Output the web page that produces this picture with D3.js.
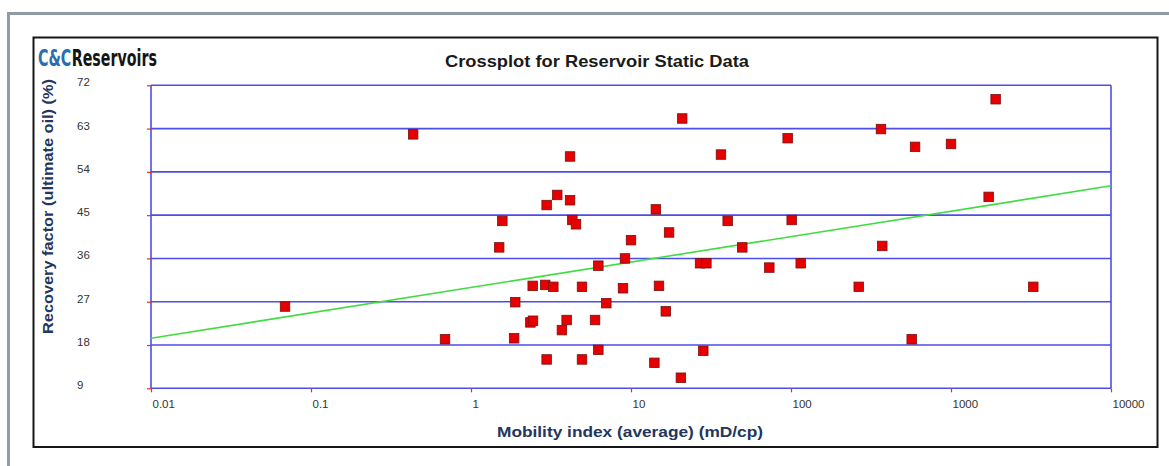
<!DOCTYPE html>
<html>
<head>
<meta charset="utf-8">
<script src="https://cdn.jsdelivr.net/npm/d3@7"></script>
<style>
  html, body { margin: 0; padding: 0; background: #ffffff; }
  svg { display: block; }
</style>
</head>
<body>
<svg id="chart" width="1169" height="466"></svg>
<script>
// ---- data ----
const mobilityIndex = [
  0.435, 0.0688, 0.688, 1.57, 1.50,
  20.9, 95.3, 4.16, 36.5, 3.46, 2.97, 4.16, 14.3, 4.30, 4.53,
  40.2, 101, 17.3, 10.0, 49.6, 6.25, 9.17, 27.0, 29.6, 73.2,
  115, 2.43, 2.91, 3.27, 4.94, 8.91, 14.96, 1.89, 7.01, 16.5,
  2.35, 2.44, 3.96, 3.70, 5.96, 1.86, 6.25, 28.3, 2.97, 4.94,
  14.0, 20.5,
  1901, 365, 596, 1000, 1719, 372, 265, 3268, 568
];
const recoveryFactor = [
  61.8, 26.0, 19.2, 43.8, 38.3,
  65.1, 61.0, 57.2, 57.6, 49.2, 47.1, 48.1, 46.2, 44.0, 43.1,
  43.8, 44.0, 41.4, 39.8, 38.3, 34.5, 36.0, 35.0, 35.0, 34.1,
  35.0, 30.3, 30.5, 30.1, 30.1, 29.8, 30.3, 26.9, 26.7, 25.0,
  22.7, 23.05, 23.2, 21.1, 23.2, 19.4, 17.0, 16.8, 15.0, 15.0,
  14.3, 11.2,
  69.1, 62.9, 59.2, 59.8, 48.8, 38.6, 30.1, 30.1, 19.2
];
const trendX = [0.01, 10000];
const trendY = [19.4, 51.1];
const xTicks = [0.01, 0.1, 1, 10, 100, 1000, 10000];
const xTickLabels = ["0.01", "0.1", "1", "10", "100", "1000", "10000"];
const yTicks = [9, 18, 27, 36, 45, 54, 63, 72];

const chartTitle = "Crossplot for Reservoir Static Data";
const xTitle = "Mobility index (average) (mD/cp)";
const yTitle = "Recovery factor (ultimate oil) (%)";
const logoParts = ["C&C", "Reservoirs"];

// ---- layout ----
const svg = d3.select("#chart");
const plot = { left: 151, right: 1111, top: 85.3, bottom: 388.3 };

const x = d3.scaleLog().domain([0.01, 10000]).range([plot.left, plot.right]);
const y = d3.scaleLinear().domain([9, 72]).range([plot.bottom, plot.top]);

// outer gray frame
svg.append("rect").attr("x", 7).attr("y", 12).attr("width", 1200).attr("height", 3).attr("fill", "#8f9ca6");
svg.append("rect").attr("x", 7).attr("y", 12).attr("width", 3).attr("height", 460).attr("fill", "#8f9ca6");

// black chart box
svg.append("rect").attr("x", 33.5).attr("y", 37.5).attr("width", 1124).attr("height", 409.5)
  .attr("fill", "#ffffff").attr("stroke", "#161616").attr("stroke-width", 2);

// horizontal gridlines
const gridColor = "#4d4de8";
svg.append("g").selectAll("line").data(yTicks).join("line")
  .attr("x1", plot.left).attr("x2", plot.right)
  .attr("y1", d => y(d)).attr("y2", d => y(d))
  .attr("stroke", gridColor).attr("stroke-width", 1.6);

// left / right borders
svg.append("g").selectAll("line").data(d3.extent(xTicks)).join("line")
  .attr("x1", d => x(d)).attr("x2", d => x(d))
  .attr("y1", plot.top).attr("y2", plot.bottom)
  .attr("stroke", gridColor).attr("stroke-width", 1.6);

// y axis ticks and labels
const yAxis = svg.append("g").attr("transform", `translate(${plot.left},0)`)
  .call(d3.axisLeft(y).tickValues(yTicks).tickSize(4).tickPadding(0).tickFormat(d3.format("d")));
yAxis.select(".domain").remove();
yAxis.selectAll(".tick line").attr("stroke", "#e03030").attr("stroke-width", 1.2);
yAxis.selectAll(".tick text")
  .attr("x", 77 - plot.left).attr("dy", "0.3em").attr("y", -3)
  .attr("text-anchor", "start")
  .attr("font-family", "Liberation Sans, Arial, sans-serif").attr("font-size", 11.5).attr("fill", "#333333");

// x axis ticks and labels
const xAxis = svg.append("g").attr("transform", `translate(0,${plot.bottom})`)
  .call(d3.axisBottom(x).tickValues(xTicks).tickSize(4).tickPadding(0)
    .tickFormat((d, i) => xTickLabels[i]));
xAxis.select(".domain").remove();
xAxis.selectAll(".tick line").attr("stroke", "#e03030").attr("stroke-width", 1.2);
xAxis.selectAll(".tick text")
  .attr("y", 20).attr("dy", 0).attr("x", 1)
  .attr("text-anchor", "start")
  .attr("font-family", "Liberation Sans, Arial, sans-serif").attr("font-size", 11.5).attr("fill", "#333333");

// trend line
const trendData = trendX.map((d, i) => [d, trendY[i]]);
svg.append("path").datum(trendData)
  .attr("d", d3.line().x(d => x(d[0])).y(d => y(d[1])))
  .attr("fill", "none").attr("stroke", "#3fdd3f").attr("stroke-width", 1.6);

// markers
const pts = mobilityIndex.map((d, i) => [d, recoveryFactor[i]]);
const ms = 9.5;
svg.append("g").selectAll("rect").data(pts).join("rect")
  .attr("x", d => x(d[0]) - ms / 2).attr("y", d => y(d[1]) - ms / 2)
  .attr("width", ms).attr("height", ms)
  .attr("fill", "#e60000").attr("stroke", "#7a1010").attr("stroke-width", 0.8);

// titles
svg.append("text").text(chartTitle)
  .attr("x", 597).attr("y", 67).attr("text-anchor", "middle")
  .attr("font-family", "Liberation Sans, Arial, sans-serif").attr("font-weight", "bold")
  .attr("font-size", 16.5).attr("fill", "#1a1a1a")
  .attr("textLength", 304).attr("lengthAdjust", "spacingAndGlyphs");

svg.append("text").text(xTitle)
  .attr("x", 630).attr("y", 437).attr("text-anchor", "middle")
  .attr("font-family", "Liberation Sans, Arial, sans-serif").attr("font-weight", "bold")
  .attr("font-size", 15.5).attr("fill", "#23365c")
  .attr("textLength", 266).attr("lengthAdjust", "spacingAndGlyphs");

svg.append("text").text(yTitle)
  .attr("transform", "translate(53,334) rotate(-90)")
  .attr("text-anchor", "start")
  .attr("font-family", "Liberation Sans, Arial, sans-serif").attr("font-weight", "bold")
  .attr("font-size", 15.5).attr("fill", "#23365c")
  .attr("textLength", 255).attr("lengthAdjust", "spacingAndGlyphs");

// logo (scaled horizontally to fit without overlapping parts)
svg.append("rect").attr("x", 36).attr("y", 44).attr("width", 124).attr("height", 26).attr("fill", "#ffffff");
const logoFont = "Liberation Sans Narrow, DejaVu Sans Condensed, sans-serif";
const logoG = svg.append("g");
const t1 = logoG.append("text").text(logoParts[0]).attr("x", 0).attr("y", 0)
  .attr("font-family", logoFont).attr("font-weight", "bold").attr("font-size", 23).attr("fill", "#2a6cb3");
const w1 = t1.node().getComputedTextLength();
const t2 = logoG.append("text").text(logoParts[1]).attr("x", w1 + 0.5).attr("y", 0)
  .attr("font-family", logoFont).attr("font-weight", "bold").attr("font-size", 23).attr("fill", "#151515");
const w2 = t2.node().getComputedTextLength();
const sx = 119 / (w1 + 0.5 + w2);
logoG.attr("transform", `translate(38,66) scale(${sx},1)`);
</script>
</body>
</html>
